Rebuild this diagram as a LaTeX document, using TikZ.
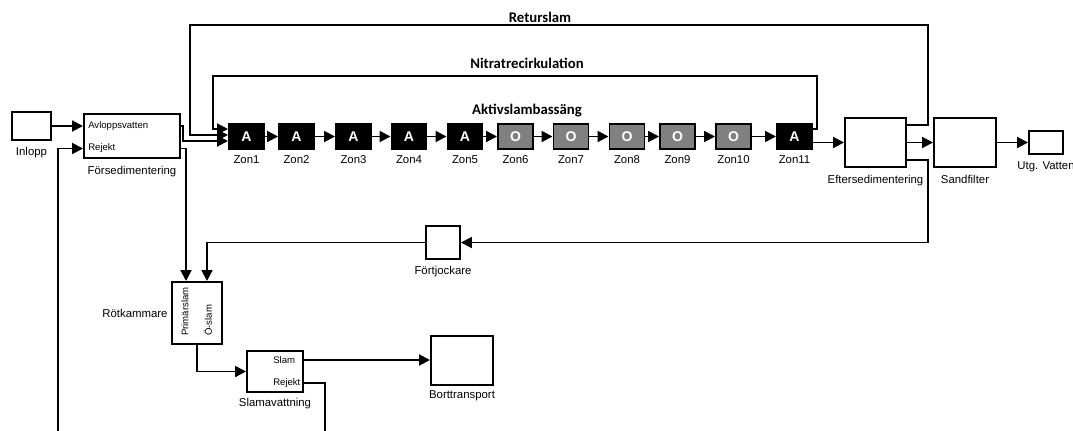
\documentclass[tikz,border=0pt]{standalone}
\usepackage{fontspec}
\setmainfont{Liberation Sans}
\newfontfamily\titlefont{Carlito}
\usetikzlibrary{arrows.meta,positioning,calc}

\tikzset{
    box/.style={draw, line width=1.4pt, fill=white, inner sep=0pt},
    zone/.style={box, text=white, font=\fontsize{10}{12}\selectfont\bfseries, minimum width=0.875cm, minimum height=0.625cm},
    lbl/.style={inner sep=0pt, font=\fontsize{8.1}{9.5}\selectfont},
    port/.style={inner sep=0pt, font=\fontsize{6.8}{8}\selectfont},
    ttl/.style={inner sep=0pt, font=\titlefont\fontsize{10.5}{12}\selectfont\bfseries},
    flow/.style={line width=1.4pt, -{Triangle[length=0.27cm,width=0.27cm]}},
    pipe/.style={line width=1.4pt},
}

\begin{document}
\begin{tikzpicture}[x=0.025cm, y=-0.025cm]
    \useasboundingbox ({0}, {0}) rectangle ({1073}, {430});

    % Inflow and primary settling
    \node[box, minimum width=0.975cm, minimum height=0.7cm] (inlopp) at ({31.5}, {126}) {};
    \node[lbl, below=0.15cm of inlopp] (inlopplbl) {Inlopp};
    \node[box, minimum width=2.4cm, minimum height=1.1cm] (forsed) at ({132}, {136}) {};
    \node[port, anchor=west] (avl) at ({88}, {126}) {Avloppsvatten};
    \node[port, anchor=west] (rej) at ({88}, {148.5}) {Rejekt};
    \node[lbl, below=0.17cm of forsed] (forsedlbl) {Försedimentering};
    \coordinate (rejin) at ({58}, {431});
    \draw[flow] (inlopp) -- (forsed.west |- inlopp);
    \draw[flow] (rejin) |- (forsed.west |- rej);

    % Activated sludge zones
    \foreach \i/\x/\t/\c in {1/246.5/A/black, 2/296.5/A/black, 3/353.5/A/black, 4/409/A/black, 5/465/A/black,
        6/515.5/O/black!50, 7/571/O/black!50, 8/627/O/black!50, 9/677.5/O/black!50, 10/733.5/O/black!50, 11/794.5/A/black} {
        \node[zone, fill=\c] (zon\i) at ({\x}, {136.5}) {\t};
        \node[lbl, below=0.13cm of zon\i] (zonlbl\i) {Zon\i};
    }
    \foreach \i [evaluate=\i as \j using int(\i+1)] in {1,...,10}
        \draw[flow] (zon\i) -- (zon\j);
    \node[ttl] (aktiv) at ({527}, {111}) {Aktivslambassäng};
    \draw[flow] (forsed.east |- avl) -| ({183}, {141}) -- ($(zon1.west)+(0,4.5)$);

    % Secondary settling, sand filter, outlet
    \node[box, minimum width=1.525cm, minimum height=1.225cm] (efter) at ({875.5}, {142.5}) {};
    \node[lbl, below=0.17cm of efter] (efterlbl) {Eftersedimentering};
    \node[box, minimum width=1.55cm, minimum height=1.225cm] (sand) at ({965}, {142.5}) {};
    \node[lbl, below=0.17cm of sand] (sandlbl) {Sandfilter};
    \node[box, minimum width=0.85cm, minimum height=0.575cm] (utg) at ({1046}, {142.5}) {};
    \node[lbl, below=0.17cm of utg] (utglbl) {Utg. Vatten};
    \draw[flow] (zon11.east |- efter.west) -- (efter.west);
    \draw[flow] (efter) -- (sand);
    \draw[flow] (sand) -- (utg);

    % Return flows
    \node[ttl] (retur) at ({540}, {17}) {Returslam};
    \draw[flow] ($(efter.north east)+(0,8)$) -| ({928}, {25}) -| ({190}, {135}) -- ($(zon1.west)+(0,-1.5)$);
    \node[ttl] (nitrat) at ({527}, {63}) {Nitratrecirkulation};
    \draw[flow] ($(zon11.north east)+(0,6)$) -| ({817}, {76}) -| ({213}, {129}) -- ($(zon1.west)+(0,-7.5)$);

    % Sludge treatment
    \node[box, minimum width=0.85cm, minimum height=0.825cm] (fortj) at ({443}, {242.5}) {};
    \node[lbl, below=0.15cm of fortj] (fortjlbl) {Förtjockare};
    \draw[flow] ($(efter.south east)+(0,-8)$) -| ({928}, {242.5}) -- (fortj.east);
    \node[box, minimum width=1.25cm, minimum height=1.55cm] (rot) at ({197}, {313}) {};
    \node[lbl, left=0.08cm of rot] (rotlbl) {Rötkammare};
    \node[port, rotate=90, anchor=west] (prim) at ({185}, {336}) {Primärslam};
    \node[port, rotate=90, anchor=west] (oslam) at ({208}, {336}) {Ö-slam};
    \draw[flow] (forsed.east |- rej) -| ($(rot.north west)+(15,0)$);
    \draw[flow] (fortj.west) -| ($(rot.north west)+(36,0)$);

    \node[box, minimum width=1.4cm, minimum height=1.025cm] (slamav) at ({275}, {371.5}) {};
    \node[lbl, below=0.12cm of slamav] (slamavlbl) {Slamavattning};
    \node[port, anchor=west] (slam) at ({273}, {360}) {Slam};
    \node[port, anchor=west] (rejut) at ({273}, {383}) {Rejekt};
    \draw[flow] (rot.south) |- (slamav.west);
    \node[box, minimum width=1.55cm, minimum height=1.225cm] (bort) at ({462}, {360.5}) {};
    \node[lbl, below=0.12cm of bort] (bortlbl) {Borttransport};
    \draw[flow] (slamav.east |- slam) -- (bort.west |- slam);
    \coordinate (rejout) at ({325}, {431});
    \draw[pipe] (slamav.east |- rejut) -| (rejout);
\end{tikzpicture}
\end{document}
